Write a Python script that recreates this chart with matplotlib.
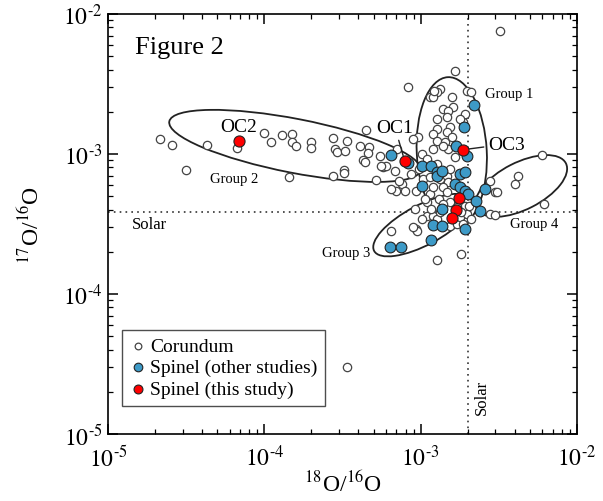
import numpy as np
import matplotlib
matplotlib.use('Agg')
import matplotlib.pyplot as plt
from matplotlib.patches import Ellipse
from matplotlib import transforms
from matplotlib.ticker import FuncFormatter

plt.rcParams['font.family'] = ['Liberation Serif', 'DejaVu Serif']
plt.rcParams['mathtext.fontset'] = 'stix'

# corundum grains (open symbols)
cor_x = [2.15e-5, 2.56e-5, 3.15e-5, 4.3e-5, 6.7e-5, 1.0e-4, 1.1e-4, 1.29e-4, 1.5e-4, 1.5e-4,
         1.59e-4, 1.98e-4, 2.0e-4, 2.74e-4, 2.82e-4, 2.9e-4, 3.37e-4, 3.3e-4, 4.08e-4, 4.7e-4,
         4.6e-4, 4.3e-4, 4.4e-4, 5.47e-4, 5.7e-4, 4.45e-4, 1.43e-4, 2.74e-4, 3.25e-4, 3.25e-4,
         3.2e-3, 1.65e-3, 8.3e-4, 3.4e-4, 1.32e-3, 1.27e-3, 1.14e-3, 1.97e-3, 2.1e-3, 1.58e-3,
         1.6e-3, 1.38e-3, 1.49e-3, 1.91e-3, 1.47e-3, 1.28e-3, 1.27e-3, 1.53e-3, 1.47e-3, 9.6e-4,
         1.19e-3, 1.27e-3, 1.42e-3, 1.58e-3, 1.49e-3, 1.39e-3, 1.19e-3, 1.02e-3, 1.65e-3, 6.0e-4,
         1.86e-3, 1.78e-3, 1.19e-3, 1.22e-3, 7.6e-4, 7.0e-4, 7.9e-4, 9.4e-4, 1.14e-3, 1.30e-3,
         1.1e-3, 1.09e-3, 1.02e-3, 9.4e-4, 9.5e-4, 8.9e-4, 1.53e-3, 1.7e-3, 1.78e-3, 1.97e-3,
         1.91e-3, 2.05e-3, 2.76e-3, 2.97e-3, 1.03e-3, 1.14e-3, 1.32e-3, 1.47e-3, 1.53e-3, 1.49e-3,
         9.8e-4, 7.3e-4, 5.6e-4, 1.27e-3, 1.38e-3, 1.19e-3, 1.47e-3, 1.53e-3, 1.38e-3, 1.7e-3,
         1.82e-3, 2.1e-3, 1.86e-3, 1.19e-3, 1.28e-3, 6.5e-4, 1.27e-3, 1.82e-3, 8.9e-4, 7.1e-4,
         6.5e-4, 5.2e-4, 6.8e-4, 1.09e-3, 8.7e-4, 1.06e-3, 9.2e-4, 1.17e-3, 1.32e-3, 6.0e-3,
         4.2e-3, 3.98e-3, 2.76e-3, 3.06e-3, 6.1e-3, 2.97e-3]
cor_y = [1.28e-3, 1.16e-3, 7.7e-4, 1.16e-3, 1.10e-3, 1.41e-3, 1.22e-3, 1.37e-3, 1.39e-3, 1.22e-3,
         1.14e-3, 1.22e-3, 1.10e-3, 1.30e-3, 1.09e-3, 1.03e-3, 1.24e-3, 1.05e-3, 1.14e-3, 1.12e-3,
         1.02e-3, 9.1e-4, 8.8e-4, 9.7e-4, 8.1e-4, 1.48e-3, 6.85e-4, 6.97e-4, 7.7e-4, 7.3e-4,
         7.6e-3, 3.9e-3, 3.0e-3, 3.0e-5, 2.91e-3, 2.77e-3, 2.55e-3, 2.8e-3, 2.77e-3, 2.55e-3,
         2.17e-3, 2.1e-3, 2.04e-3, 1.93e-3, 1.84e-3, 1.78e-3, 1.51e-3, 1.56e-3, 1.44e-3, 1.32e-3,
         1.39e-3, 1.24e-3, 1.22e-3, 1.32e-3, 1.09e-3, 1.14e-3, 1.09e-3, 1.0e-3, 9.5e-4, 8.2e-4,
         1.69e-3, 1.78e-3, 2.55e-3, 2.8e-3, 6.1e-4, 5.4e-4, 5.4e-4, 5.4e-4, 5.2e-4, 4.77e-4,
         4.5e-4, 3.6e-4, 3.45e-4, 2.9e-4, 2.8e-4, 3.0e-4, 3.06e-4, 3.15e-4, 3.55e-4, 3.7e-4,
         4.25e-4, 4.25e-4, 3.7e-4, 5.35e-4, 6.6e-4, 6.85e-4, 6.6e-4, 6.95e-4, 7.8e-4, 6.3e-4,
         7.8e-4, 6.4e-4, 8.2e-4, 8.5e-4, 5.8e-4, 5.8e-4, 5.35e-4, 4.5e-4, 4.4e-4, 4.2e-4,
         3.85e-4, 3.4e-4, 3.15e-4, 3.6e-4, 3.45e-4, 2.8e-4, 1.75e-4, 1.93e-4, 1.28e-3, 1.09e-3,
         5.6e-4, 6.5e-4, 7.5e-4, 9.2e-4, 7.2e-4, 4.8e-4, 4.05e-4, 4.05e-4, 3.85e-4, 9.8e-4,
         7.0e-4, 6.1e-4, 6.4e-4, 5.35e-4, 4.4e-4, 3.67e-4]

# spinel from other studies (blue)
sp_x = [2.18e-3, 1.88e-3, 1.67e-3, 1.97e-3, 6.5e-4, 8.3e-4, 1.02e-3, 1.16e-3, 1.27e-3, 1.28e-3,
        1.02e-3, 1.65e-3, 1.78e-3, 1.91e-3, 2.0e-3, 1.78e-3, 1.91e-3, 2.25e-3, 2.38e-3, 2.56e-3,
        1.36e-3, 1.2e-3, 1.36e-3, 1.91e-3, 1.17e-3, 6.4e-4, 7.5e-4, 1.36e-3]
sp_y = [2.24e-3, 1.56e-3, 1.14e-3, 9.7e-4, 9.85e-4, 8.6e-4, 8.2e-4, 8.2e-4, 7.4e-4, 6.95e-4,
        5.9e-4, 6.1e-4, 5.8e-4, 5.4e-4, 5.2e-4, 7.2e-4, 7.4e-4, 4.6e-4, 3.9e-4, 5.6e-4,
        4.05e-4, 3.1e-4, 3.05e-4, 2.9e-4, 2.43e-4, 2.17e-4, 2.17e-4, 7.6e-4]

# spinel, this study (red)
this_x = [6.85e-5, 7.9e-4, 1.86e-3, 1.75e-3, 1.67e-3, 1.58e-3]
this_y = [1.24e-3, 8.9e-4, 1.07e-3, 4.85e-4, 4.0e-4, 3.5e-4]

solar_18 = 2.0e-3
solar_17 = 3.83e-4

fig = plt.figure(figsize=(6.03, 5.02), dpi=100)
ax = fig.add_axes([0.179, 0.1335, 0.778, 0.837])
ax.set_xscale('log')
ax.set_yscale('log')
ax.set_xlim(1e-5, 1e-2)
ax.set_ylim(1e-5, 1e-2)

ax.axhline(solar_17, color='#333333', ls=(0, (1, 2.5)), lw=1.2, zorder=1)
ax.axvline(solar_18, color='#333333', ls=(0, (1, 2.5)), lw=1.2, zorder=1)

ax.scatter(cor_x, cor_y, s=36, facecolor='white', edgecolor='#444444', linewidth=0.9,
           zorder=3, label='Corundum')
ax.scatter(sp_x, sp_y, s=60, facecolor='#3d9ac7', edgecolor='#222222', linewidth=0.8,
           zorder=4, label='Spinel (other studies)')
ax.scatter(this_x, this_y, s=64, facecolor='#ff0000', edgecolor='#222222', linewidth=0.8,
           zorder=5, label='Spinel (this study)')

# group ellipses: centre (data), width/height in inches, angle in degrees
groups = [((1.57e-4, 1.14e-3), 2.56, 0.54, -11),
          ((1.58e-3, 1.03e-3), 1.50, 0.70, 93),
          ((1.03e-3, 3.1e-4), 1.10, 0.40, 28),
          ((4.4e-3, 5.9e-4), 1.00, 0.47, 27)]
for (cx, cy), w, h, ang in groups:
    tr = fig.dpi_scale_trans + transforms.ScaledTranslation(cx, cy, ax.transData)
    ax.add_patch(Ellipse((0, 0), w, h, angle=ang, transform=tr, fill=False,
                         edgecolor='#222222', lw=1.3, zorder=2))

ax.text(0.058, 0.921, 'Figure 2', transform=ax.transAxes, fontsize=19, va='center')
ax.text(0.279, 0.731, 'OC2', transform=ax.transAxes, fontsize=14, ha='center', va='center')
ax.annotate('OC1', xy=(this_x[1], this_y[1]), xytext=(0.612, 0.729), textcoords='axes fraction',
            fontsize=14, ha='center', va='center',
            arrowprops=dict(arrowstyle='-', color='#222222', lw=1, shrinkA=1, shrinkB=4))
ax.annotate('OC3', xy=(this_x[2], this_y[2]), xytext=(0.810, 0.690), textcoords='axes fraction',
            fontsize=14, ha='left', va='center',
            arrowprops=dict(arrowstyle='-', color='#222222', lw=1, shrinkA=1, shrinkB=4))

ax.text(0.804, 0.810, 'Group 1', transform=ax.transAxes, fontsize=10.5, va='center')
ax.text(0.217, 0.607, 'Group 2', transform=ax.transAxes, fontsize=10.5, va='center')
ax.text(0.456, 0.433, 'Group 3', transform=ax.transAxes, fontsize=10.5, va='center')
ax.text(0.857, 0.502, 'Group 4', transform=ax.transAxes, fontsize=10.5, va='center')
ax.text(0.051, 0.500, 'Solar', transform=ax.transAxes, fontsize=12, va='center')
ax.text(0.797, 0.090, 'Solar', transform=ax.transAxes, fontsize=12, va='center',
        ha='center', rotation=90)

# decade labels written as 10 with a short hyphen in the exponent
fmt = FuncFormatter(lambda v, pos: r'$10^{\text{-}%d}$' % round(-np.log10(v)))
ax.xaxis.set_major_formatter(fmt)
ax.yaxis.set_major_formatter(fmt)

ax.set_xlabel(r'$^{18}$O/$^{16}$O', fontsize=17, labelpad=0)
ax.set_ylabel(r'$^{17}$O/$^{16}$O', fontsize=17, labelpad=14)

ax.tick_params(which='both', direction='in', top=True, right=True, labelsize=17)
ax.tick_params(which='major', length=7, width=1.1)
ax.tick_params(which='minor', length=3.5, width=0.9)
ax.tick_params(axis='x', which='major', pad=8)
ax.tick_params(axis='y', which='major', pad=4)
for sp in ax.spines.values():
    sp.set_linewidth(1.2)

leg = ax.legend(loc='lower left', bbox_to_anchor=(0.03, 0.067), borderaxespad=0,
                fontsize=14, frameon=True, fancybox=False, edgecolor='#222222',
                handlelength=0.8, handletextpad=0.25, borderpad=0.4, labelspacing=0.2,
                markerscale=0.8, scatterpoints=1)
leg.get_frame().set_linewidth(1.0)

fig.savefig('out.png', dpi=100)
